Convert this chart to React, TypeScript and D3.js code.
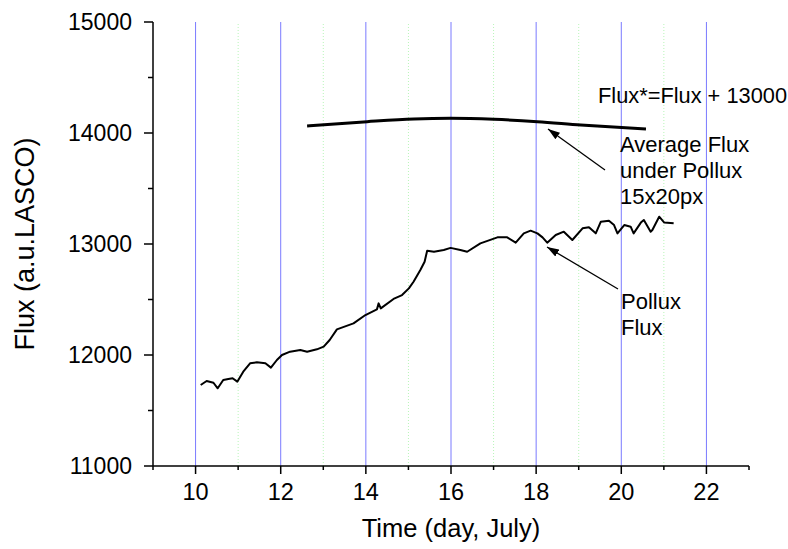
import React from "react";
import * as d3 from "d3";

// Pollux flux trace (day of July, flux a.u.)
const polluxDays = [
  10.12, 10.26, 10.42, 10.52, 10.65, 10.77, 10.87, 10.98, 11.12, 11.28, 11.44, 11.64, 11.77, 11.91,
  12.03, 12.22, 12.46, 12.62, 12.85, 13.01, 13.15, 13.32, 13.71, 13.99, 14.26, 14.3, 14.35, 14.65,
  14.85, 15.01, 15.12, 15.28, 15.38, 15.44, 15.6, 15.83, 15.99, 16.22, 16.38, 16.69, 17.09, 17.32,
  17.52, 17.71, 17.87, 18.03, 18.15, 18.26, 18.46, 18.65, 18.85, 19.09, 19.24, 19.4, 19.52, 19.71,
  19.83, 19.91, 20.07, 20.22, 20.29, 20.46, 20.53, 20.69, 20.73, 20.89, 21.01, 21.23,
];
const polluxFlux = [
  11730, 11766, 11750, 11700, 11775, 11784, 11790, 11760, 11850, 11925, 11934, 11925, 11886, 11955,
  12000, 12030, 12045, 12030, 12051, 12075, 12135, 12231, 12285, 12360, 12411, 12465, 12420, 12505,
  12540, 12600, 12660, 12766, 12840, 12940, 12930, 12946, 12965, 12946, 12930, 13006, 13060, 13060,
  13012, 13096, 13120, 13096, 13060, 13012, 13081, 13111, 13036, 13141, 13150, 13096, 13201, 13210,
  13171, 13096, 13171, 13156, 13096, 13193, 13216, 13111, 13126, 13246, 13193, 13186,
];

// Average flux under Pollux (shifted by +13000)
const avgDays = [12.62, 14.03, 15.13, 15.99, 17.01, 18.03, 19.05, 20.58];
const avgFlux = [14063, 14102, 14126, 14132, 14123, 14102, 14072, 14036];

const xMajor = [10, 12, 14, 16, 18, 20, 22];
const xMinor = [9, 11, 13, 15, 17, 19, 21, 23];
const yMajor = [11000, 12000, 13000, 14000, 15000];
const yMinor = [11500, 12500, 13500, 14500];

const W = 788;
const H = 549;
const margin = { top: 22, right: 39, bottom: 83, left: 153 };
const FONT = "'Liberation Sans', Arial, sans-serif";

export default function App() {
  const x = d3.scaleLinear().domain([9, 23]).range([margin.left, W - margin.right]);
  const y = d3.scaleLinear().domain([11000, 15000]).range([H - margin.bottom, margin.top]);
  const y0 = y(11000);
  const y1 = y(15000);

  const line = d3
    .line<number>()
    .x((d, i) => x(polluxDays[i]))
    .y((d) => y(d))
    .curve(d3.curveLinear);
  const avgLine = d3
    .line<number>()
    .x((d, i) => x(avgDays[i]))
    .y((d) => y(d))
    .curve(d3.curveMonotoneX);

  return (
    <svg
      width={W}
      height={H}
      style={{ position: "absolute", left: 0, top: 0, background: "#fff" }}
      fontFamily={FONT}
    >
      <defs>
        <marker id="arrow" viewBox="0 0 12 8" refX="12" refY="4" markerWidth="12" markerHeight="8" orient="auto" markerUnits="userSpaceOnUse">
          <path d="M0,0 L12,4 L0,8 Z" fill="#000" />
        </marker>
      </defs>

      {/* grid */}
      {xMinor.slice(1, -1).map((d) => (
        <line key={"gm" + d} x1={x(d)} x2={x(d)} y1={y0} y2={y1} stroke="#b8f5b8" strokeWidth={1} strokeDasharray="1,2" />
      ))}
      {xMajor.map((d) => (
        <line key={"gM" + d} x1={x(d)} x2={x(d)} y1={y0} y2={y1} stroke="#7a7aff" strokeWidth={1} />
      ))}

      {/* data */}
      <path d={line(polluxFlux) || ""} fill="none" stroke="#000" strokeWidth={2} strokeLinejoin="round" />
      <path d={avgLine(avgFlux) || ""} fill="none" stroke="#000" strokeWidth={3} />

      {/* axes */}
      <line x1={x(9)} x2={x(23)} y1={y0} y2={y0} stroke="#000" strokeWidth={1.5} />
      <line x1={x(9)} x2={x(9)} y1={y0} y2={y1} stroke="#000" strokeWidth={1.5} />
      {xMajor.map((d) => (
        <g key={"xt" + d}>
          <line x1={x(d)} x2={x(d)} y1={y0} y2={y0 + 8} stroke="#000" strokeWidth={1.5} />
          <text x={x(d)} y={y0 + 34} textAnchor="middle" fontSize={23.5}>{d}</text>
        </g>
      ))}
      {xMinor.map((d) => (
        <line key={"xm" + d} x1={x(d)} x2={x(d)} y1={y0} y2={y0 + 4} stroke="#000" strokeWidth={1.5} />
      ))}
      {yMajor.map((d) => (
        <g key={"yt" + d}>
          <line x1={x(9) - 9} x2={x(9)} y1={y(d)} y2={y(d)} stroke="#000" strokeWidth={1.5} />
          <text x={x(9) - 21} y={y(d) + 8} textAnchor="end" fontSize={23}>{d}</text>
        </g>
      ))}
      {yMinor.map((d) => (
        <line key={"ym" + d} x1={x(9) - 5} x2={x(9)} y1={y(d)} y2={y(d)} stroke="#000" strokeWidth={1.5} />
      ))}

      <text x={(x(9) + x(23)) / 2} y={537} textAnchor="middle" fontSize={25.5}>Time (day, July)</text>
      <text transform={`translate(34, ${(y0 + y1) / 2}) rotate(-90)`} textAnchor="middle" fontSize={27}>Flux (a.u.LASCO)</text>

      {/* annotations */}
      <text x={598} y={103} fontSize={21.8}>Flux*=Flux + 13000</text>
      <text x={620} y={152} fontSize={22}>
        <tspan x={620}>Average Flux</tspan>
        <tspan x={620} dy={26}>under Pollux</tspan>
        <tspan x={620} dy={26}>15x20px</tspan>
      </text>
      <line x1={605} y1={170} x2={548} y2={129} stroke="#000" strokeWidth={1.3} markerEnd="url(#arrow)" />

      <text x={621} y={309} fontSize={22}>
        <tspan x={621}>Pollux</tspan>
        <tspan x={621} dy={26}>Flux</tspan>
      </text>
      <line x1={618} y1={289} x2={547} y2={247} stroke="#000" strokeWidth={1.3} markerEnd="url(#arrow)" />
    </svg>
  );
}
